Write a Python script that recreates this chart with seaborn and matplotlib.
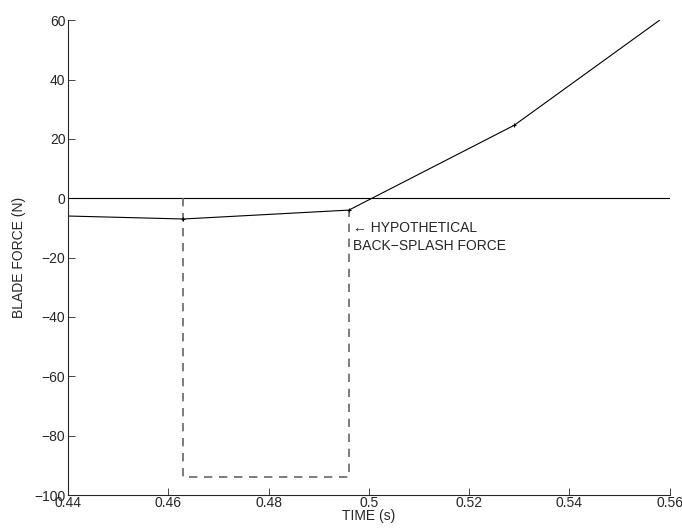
import numpy as np
import pandas as pd
import matplotlib
matplotlib.use("Agg")
import matplotlib.pyplot as plt
import seaborn as sns

# blade force trace
time_s = [0.44, 0.463, 0.496, 0.529, 0.558]
force_n = [-6.0, -7.0, -4.0, 24.6, 60.0]

# hypothetical back-splash force (dashed box)
splash_t = [0.463, 0.463, 0.496, 0.496]
splash_f = [0.0, -94.0, -94.0, -4.0]

xticks = [0.44, 0.46, 0.48, 0.5, 0.52, 0.54, 0.56]
xticklabels = ["0.44", "0.46", "0.48", "0.5", "0.52", "0.54", "0.56"]
yticks = [-100, -80, -60, -40, -20, 0, 20, 40, 60]
yticklabels = ["\u2212100", "\u221280", "\u221260", "\u221240", "\u221220", "0", "20", "40", "60"]

sns.set_style("ticks")
plt.rcParams["font.family"] = ["Liberation Sans", "DejaVu Sans"]
plt.rcParams["font.size"] = 10

df = pd.DataFrame({"t": time_s, "f": force_n})
df_s = pd.DataFrame({"t": splash_t, "f": splash_f})

fig, ax = plt.subplots(figsize=(6.82, 5.30), dpi=100)
fig.subplots_adjust(left=0.1, right=0.982, top=0.962, bottom=0.066)

ax.axhline(0, color="black", lw=0.8, zorder=1)
sns.lineplot(data=df_s, x="t", y="f", ax=ax, color="#666666", lw=1.2,
             linestyle=(0, (5, 4)), sort=False, estimator=None)
# small point marks only on the interior samples
sns.lineplot(data=df, x="t", y="f", ax=ax, color="black", lw=0.8,
             sort=False, estimator=None)
sns.scatterplot(data=df.iloc[1:4], x="t", y="f", ax=ax, color="black",
                marker="+", s=6, linewidth=0.8, zorder=3)

ax.text(0.4968, -10, "\u2190 HYPOTHETICAL", fontsize=10, va="center", ha="left")
ax.text(0.4968, -16, "BACK\u2212SPLASH FORCE", fontsize=10, va="center", ha="left")

ax.set_xlim(0.44, 0.56)
ax.set_ylim(-100, 60)
ax.set_xticks(xticks)
ax.set_xticklabels(xticklabels)
ax.set_yticks(yticks)
ax.set_yticklabels(yticklabels)
ax.tick_params(direction="in", length=5, width=0.6, pad=2, labelsize=10)
ax.tick_params(axis="x", pad=1)
ax.set_xlabel("TIME (s)", fontsize=10, labelpad=-1)
ax.set_ylabel("BLADE FORCE (N)", fontsize=10, labelpad=6)
sns.despine(ax=ax)
for s in ["left", "bottom"]:
    ax.spines[s].set_linewidth(0.8)

fig.savefig("out.png", dpi=100)
